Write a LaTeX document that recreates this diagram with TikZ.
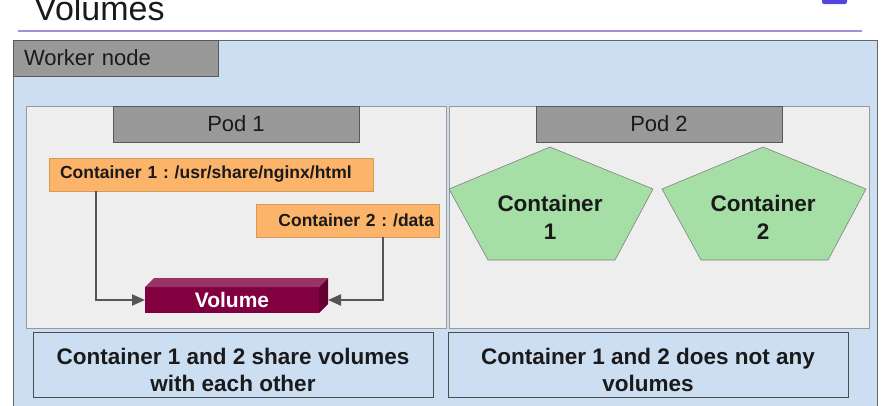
\documentclass[tikz,border=0pt]{standalone}
\usepackage{fontspec}
\setmainfont{Liberation Sans}
\usetikzlibrary{arrows.meta}
\frenchspacing
\definecolor{workerbg}{HTML}{CCDEF2}
\definecolor{podbg}{HTML}{EEEEEE}
\definecolor{labelgray}{HTML}{999999}
\definecolor{orangebox}{HTML}{FBB469}
\definecolor{orangeedge}{HTML}{D49A58}
\definecolor{volfront}{HTML}{800040}
\definecolor{voltop}{HTML}{993366}
\definecolor{volside}{HTML}{660033}
\definecolor{pentgreen}{HTML}{A6DFA6}
\definecolor{titleline}{HTML}{A58BDD}
\definecolor{iconblue}{HTML}{5545E0}
\definecolor{txt}{HTML}{1A1A1A}
\definecolor{arrowgray}{HTML}{555555}
\tikzset{
  box/.style={draw, inner sep=0pt, outer sep=0pt, anchor=north west},
  graylabel/.style={box, fill=labelgray, draw=black!65, text=txt, font=\fontsize{22}{26}\selectfont},
  podbox/.style={box, fill=podbg, draw=black!40, line width=0.8pt},
  orangelabel/.style={box, fill=orangebox, draw=orangeedge, text=txt, font=\bfseries\fontsize{17.5}{21}\selectfont},
  pent/.style={fill=pentgreen, draw=black!50, line width=0.6pt},
  penttext/.style={align=center, inner sep=0pt, text=txt, font=\bfseries\fontsize{22.5}{28}\selectfont},
  notebox/.style={box, fill=workerbg, draw=black!70, line width=0.8pt},
  notetext/.style={align=center, inner sep=0pt, text=txt, font=\bfseries\fontsize{22.5}{27}\selectfont},
  conn/.style={draw=arrowgray, line width=2pt, -{Triangle[length=13pt,width=11pt]}}
}
\begin{document}
\begin{tikzpicture}[x=1pt,y=-1pt]
\useasboundingbox (0,0) rectangle (885,405);
\clip (0,0) rectangle (885,405);
\fill[white] (0,0) rectangle (885,405);
% title
\node[anchor=base west, inner sep=0pt, text=txt, font=\fontsize{34}{40}\selectfont] (title) at (34,20) {Volumes};
\draw[titleline, line width=2pt] (18,30.5) -- (862,30.5);
\fill[iconblue, rounded corners=2pt] (822,-10) rectangle (847,4);
% worker node
\node[box, fill=workerbg, draw=black!60, line width=0.8pt, minimum width=864, minimum height=400] (worker) at (13,40) {};
\node[graylabel, minimum width=205.5, minimum height=36, text width=183.5, inner xsep=11pt, align=left] (wlabel) at (13,40) {Worker node};
% pods
\node[podbox, minimum width=420, minimum height=222] (pod1) at (26,106) {};
\node[podbox, minimum width=420, minimum height=222] (pod2) at (449,106) {};
\node[graylabel, minimum width=246, minimum height=36] (pod1l) at (113,106) {Pod 1};
\node[graylabel, minimum width=246, minimum height=36] (pod2l) at (536,106) {Pod 2};
% pod 1 content
\node[orangelabel, minimum height=33, text width=302, inner xsep=11pt, align=left] (c1) at (49,158) {Container 1 : /usr/share/nginx/html};
\node[orangelabel, minimum height=33, text width=173, inner xsep=5pt, align=right] (c2) at (256,204) {Container 2 : /data};
\node[box, draw=none, fill=volfront, minimum width=174, minimum height=26, text=white, font=\bfseries\fontsize{21}{24}\selectfont] (vol) at (145,287) {Volume};
\fill[voltop] (vol.north west) -- ++(9,-9) -- ++(174,0) -- (vol.north east) -- cycle;
\fill[volside] (vol.north east) -- ++(9,-9) -- ++(0,26) -- (vol.south east) -- cycle;
\draw[conn] ([xshift=47pt]c1.south west) |- (vol.west);
\draw[conn] ([xshift=-56pt]c2.south east) |- ([xshift=9pt]vol.east);
% pod 2 content
\filldraw[pent] (550,147) -- (653,189) -- (615,260) -- (488,260) -- (449,189) -- cycle;
\node[penttext] (p2c1) at (550,217) {Container\\1};
\filldraw[pent] (763,147) -- (866,189) -- (828,260) -- (701,260) -- (662,189) -- cycle;
\node[penttext] (p2c2) at (763,217) {Container\\2};
% notes
\node[notebox, minimum width=400, minimum height=65] (note1) at (33,332) {};
\node[notetext] (note1t) at (233,369.5) {Container 1 and 2 share volumes\\with each other};
\node[notebox, minimum width=400, minimum height=65] (note2) at (448,332) {};
\node[notetext] (note2t) at (648,369.5) {Container 1 and 2 does not any\\volumes};
\end{tikzpicture}
\end{document}
